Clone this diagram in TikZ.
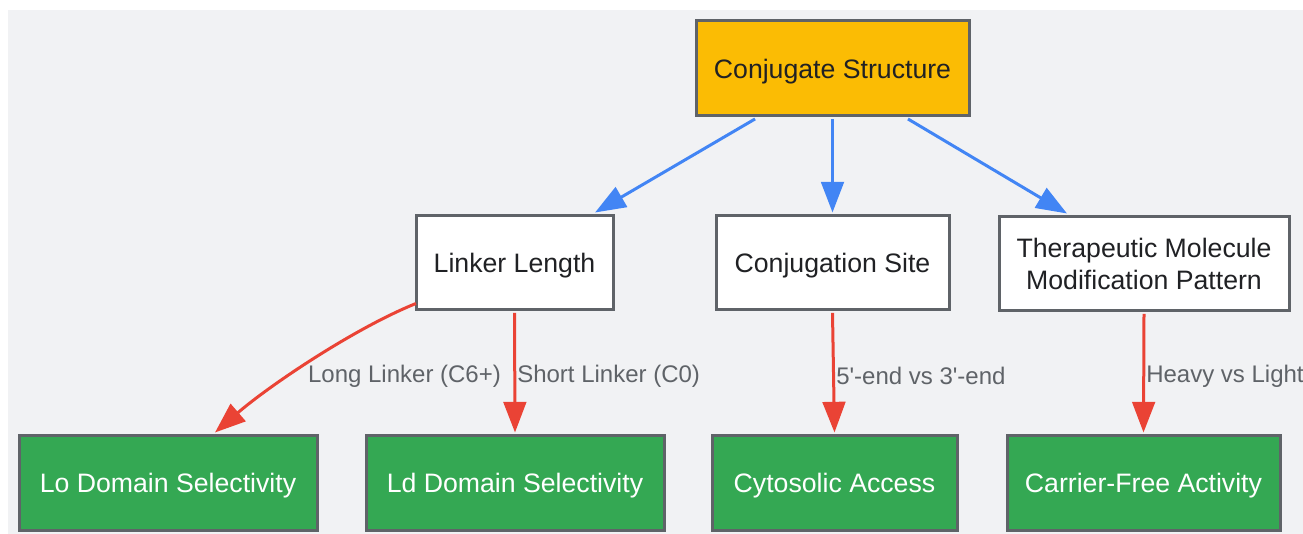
\documentclass[tikz,border=0pt]{standalone}
\usepackage{fontspec}
\setmainfont{Liberation Sans}
\usetikzlibrary{arrows.meta}
\definecolor{bgc}{HTML}{F1F2F4}
\definecolor{bordc}{HTML}{5F6368}
\definecolor{yel}{HTML}{FBBC04}
\definecolor{grn}{HTML}{34A853}
\definecolor{blu}{HTML}{4285F4}
\definecolor{redc}{HTML}{EA4335}
\definecolor{txt}{HTML}{202124}
\definecolor{lbl}{HTML}{5F6368}
\tikzset{
  box/.style={draw=bordc, line width=2.25pt, inner sep=0pt, align=center,
    font=\fontsize{20}{24}\selectfont},
  oneline/.style={text height=19pt, text depth=4.2pt},
  topbox/.style={box, oneline, fill=yel, text=txt},
  midbox/.style={box, fill=white, text=txt},
  outbox/.style={box, oneline, fill=grn, text=white},
  bluearr/.style={draw=blu, line width=2.25pt, -{Triangle[length=23pt,width=17pt]}},
  redarr/.style={draw=redc, line width=2.25pt, -{Triangle[length=23pt,width=17pt]}},
  elabel/.style={text=lbl, font=\fontsize{18}{22}\selectfont, inner sep=0pt}
}
\begin{document}
\begin{tikzpicture}[x=0.75pt,y=-0.75pt]
\useasboundingbox (0,0) rectangle (1303,534);
\fill[bgc] (8,10) rectangle (1303,534);

\node[topbox, minimum width=204.75pt, minimum height=71.25pt] (top) at (832.5,68.5) {Conjugate Structure};

\node[midbox, oneline, minimum width=147.75pt, minimum height=70.5pt] (linker) at (514.5,263) {Linker Length};
\node[midbox, oneline, minimum width=174.75pt, minimum height=70.5pt] (site) at (832.5,263) {Conjugation Site};
\node[midbox, minimum width=217.5pt, minimum height=70.5pt] (ther) at (1144,264) {Therapeutic Molecule\\Modification Pattern};

\node[outbox, minimum width=223.5pt, minimum height=70.5pt] (lo) at (168,483) {Lo Domain Selectivity};
\node[outbox, minimum width=223.5pt, minimum height=70.5pt] (ld) at (515,483) {Ld Domain Selectivity};
\node[outbox, minimum width=183.75pt, minimum height=70.5pt] (cyto) at (834.5,483) {Cytosolic Access};
\node[outbox, minimum width=204.75pt, minimum height=70.5pt] (carrier) at (1143.5,483) {Carrier-Free Activity};

\draw[bluearr] ([xshift=-58.1pt,yshift=-1.1pt]top.south) -- ([xshift=60.4pt,yshift=1.5pt]linker.north);
\draw[bluearr] ([yshift=-1.1pt]top.south) -- ([yshift=1.5pt]site.north);
\draw[bluearr] ([xshift=56.6pt,yshift=-1.1pt]top.south) -- ([xshift=-57.75pt,yshift=1.5pt]ther.north);

\draw[redarr] ([xshift=1.1pt,yshift=6pt]linker.south west) .. controls (355,328) and (270,385) .. ([xshift=35.25pt,yshift=1.5pt]lo.north);
\draw[redarr] ([yshift=-1.1pt]linker.south) -- ([yshift=1.5pt]ld.north);
\draw[redarr] ([yshift=-1.1pt]site.south) -- ([yshift=1.5pt]cyto.north);
\draw[redarr] ([yshift=-1.1pt]ther.south) -- ([yshift=1.5pt]carrier.north);

\node[elabel] (l1) at (404.5,376) {Long Linker (C6+)};
\node[elabel, anchor=west] (l2) at (517,376) {Short Linker (C0)};
\node[elabel, anchor=west] (l3) at (836,376) {5\textquotesingle-end vs 3\textquotesingle-end};
\node[elabel, anchor=west] (l4) at (1146,376) {Heavy vs Light};
\end{tikzpicture}
\end{document}
